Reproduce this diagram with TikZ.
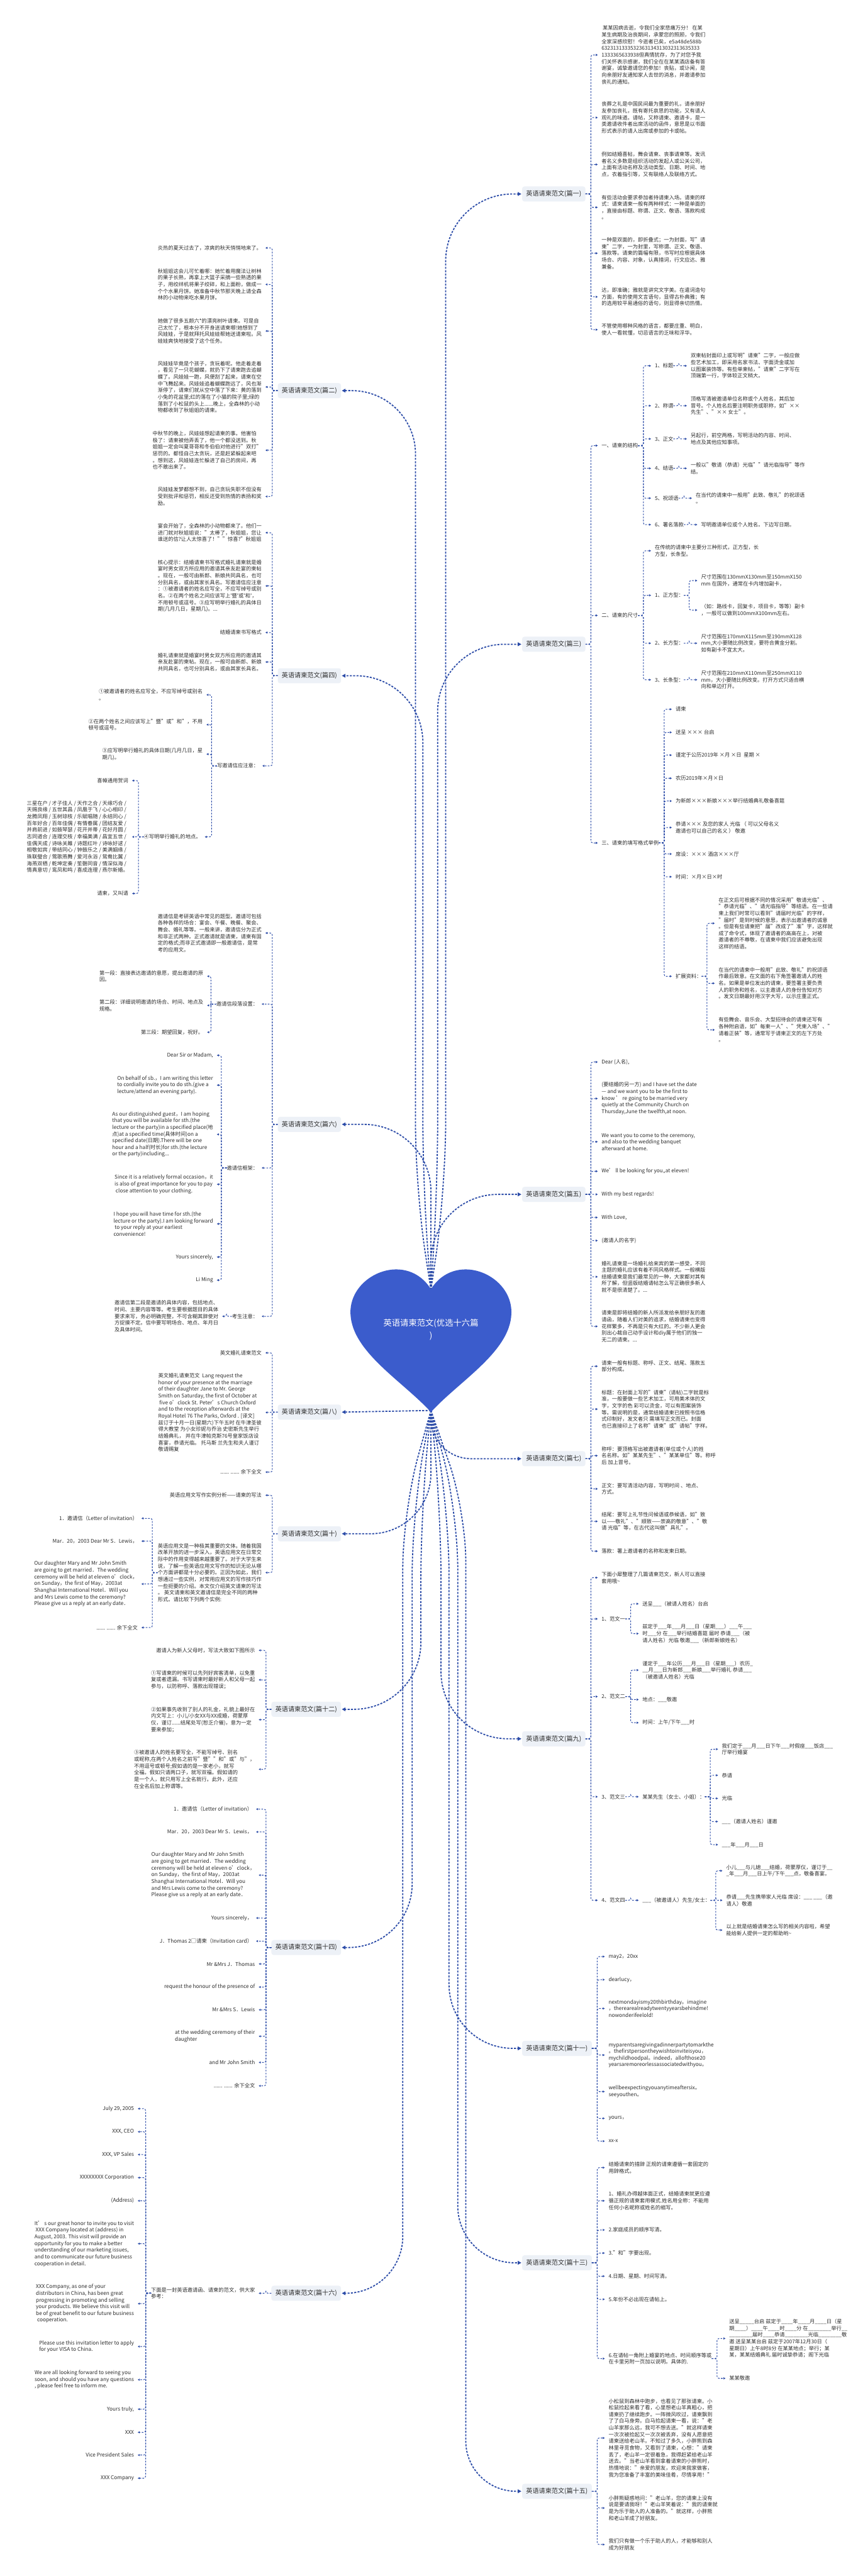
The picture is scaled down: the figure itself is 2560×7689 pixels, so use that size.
\documentclass[tikz,border=0pt]{standalone}
\usepackage{fontspec}
\setmainfont{Noto Sans CJK SC}
\usetikzlibrary{arrows.meta}
\XeTeXlinebreaklocale "zh"

\definecolor{linkblue}{RGB}{44,76,168}
\definecolor{heartblue}{RGB}{59,92,204}
\definecolor{boxfill}{RGB}{237,241,247}
\definecolor{ink}{RGB}{45,45,45}

\newcommand{\blk}{\_\_\_}
\newcommand{\blkk}{\_\_\_\_}
\newcommand{\rlink}[2]{\draw[sublink] (#1.east) -- ++(16,0) |- (#2.west);}
\newcommand{\llink}[2]{\draw[sublink] (#1.west) -- ++(-16,0) |- (#2.east);}

\begin{document}
\begin{tikzpicture}[x=1pt, y=1pt,
  branch/.style={
    fill=boxfill, rounded corners=7pt, text=ink,
    font=\fontsize{19}{24}\selectfont,
    minimum height=45pt, inner xsep=12pt
  },
  txt/.style={
    align=left, inner sep=0pt, text=ink,
    font=\fontsize{15.5}{20}\selectfont
  },
  mainlink/.style={
    draw=linkblue, line width=3.4pt, dash pattern=on 6pt off 4pt,
    -{Triangle[length=11pt, width=11pt]}, shorten >=2pt
  },
  sublink/.style={
    draw=linkblue, line width=1.9pt, dash pattern=on 5pt off 4pt,
    rounded corners=6pt, -{Triangle[length=6pt, width=6pt]}, shorten >=11pt
  }
]
\fill[white] (0,0) rectangle (2560,-7689);
\useasboundingbox (0,0) rectangle (2560,-7689);

% ----- Branch labels -----
\node[branch, anchor=west] (p1) at (1558,-579) {英语请柬范文(篇一)};
\node[branch, anchor=west] (p3) at (1558,-1923) {英语请柬范文(篇三)};
\node[branch, anchor=west] (p5) at (1558,-3565) {英语请柬范文(篇五)};
\node[branch, anchor=west] (p7) at (1558,-4354) {英语请柬范文(篇七)};
\node[branch, anchor=west] (p9) at (1558,-5190) {英语请柬范文(篇九)};
\node[branch, anchor=west] (p11) at (1558,-6114) {英语请柬范文(篇十一)};
\node[branch, anchor=west] (p13) at (1558,-6754) {英语请柬范文(篇十三)};
\node[branch, anchor=west] (p15) at (1558,-7436) {英语请柬范文(篇十五)};
\node[branch, anchor=east] (p2) at (1018,-1166) {英语请柬范文(篇二)};
\node[branch, anchor=east] (p4) at (1018,-2017) {英语请柬范文(篇四)};
\node[branch, anchor=east] (p6) at (1018,-3356) {英语请柬范文(篇六)};
\node[branch, anchor=east] (p8) at (1018,-4215) {英语请柬范文(篇八)};
\node[branch, anchor=east] (p10) at (1018,-4578) {英语请柬范文(篇十)};
\node[branch, anchor=east] (p12) at (1018,-5102) {英语请柬范文(篇十二)};
\node[branch, anchor=east] (p14) at (1018,-5813) {英语请柬范文(篇十四)};
\node[branch, anchor=east] (p16) at (1018,-6845) {英语请柬范文(篇十六)};

% ----- 篇一 -----
\node[txt, anchor=west] (p1a) at (1795,-164) {\ 某某因病去逝，令我们全家悲痛万分！ 在某\\某生病期及治丧期间，承蒙您的照顾，令我们\\全家深感欣慰！今逝者已矣，e5a48de588b\\6323131333532363134313032313635333\\1333365633938但真情犹存，为了对您予我\\们关怀表示感谢，我们全在在某某酒店备有答\\谢宴，诚挚邀请您的参加！丧贴，或讣闻，是\\向亲朋好友通知家人去世的消息，并邀请参加\\丧礼的通知。};
\node[txt, anchor=west] (p1b) at (1795,-351) {丧葬之礼是中国民间最为重要的礼，请亲朋好\\友参加丧礼，既有寄托哀思的功能，又有请人\\观礼的味道。请帖，又称请柬、邀请卡，是一\\类邀请收件者出席活动的函件，意思是以书面\\形式表示的请人出席或参加的卡或帖。};
\node[txt, anchor=west] (p1c) at (1795,-491) {例如结婚喜帖，舞会请柬、丧事请柬等。发讯\\者名义多数是组织活动的发起人或公关公司，\\上面有活动名称及活动类型、日期、时间、地\\点，衣着指引等，又有联络人及联络方式。};
\node[txt, anchor=west] (p1d) at (1795,-619) {有些活动会要求参加者持请柬入场。请柬的样\\式：请柬请柬一般有两种样式：一种是单面的\\，直接由标题、称谓、正文、敬语、落款构成\\。};
\node[txt, anchor=west] (p1e) at (1795,-756) {一种是双面的，即折叠式；一为封面，写"请\\柬"二字，一为封里，写称谓、正文、敬语、\\落款等。请柬的篇幅有限，书写时应根据具体\\场合、内容、对象，认真措词，行文应达、雅\\兼备。};
\node[txt, anchor=west] (p1f) at (1795,-886) {达，即准确；雅就是讲究文字美。在遣词造句\\方面，有的使用文言语句，显得古朴典雅；有\\的选用较平易通俗的语句，则显得亲切热情。};
\node[txt, anchor=west] (p1g) at (1795,-984) {不管使用哪种风格的语言，都要庄重、明白，\\使人一看就懂，切忌语言的乏味和浮华。};
\foreach \c in {a,b,c,d,e,f,g} {\rlink{p1}{p1\c}}

% ----- 篇二 -----
\node[txt, anchor=east] (p2a) at (781,-740) {炎热的夏天过去了，凉爽的秋天悄悄地来了。};
\node[txt, anchor=east] (p2b) at (781,-849) {秋姐姐这会儿可忙着哪：她忙着用魔法让树林\\的果子长熟，再拿上大篮子采摘一些熟透的果\\子，用绞绊机将果子绞碎，和上面粉，做成一\\个个水果月饼。她准备中秋节那天晚上请全森\\林的小动物来吃水果月饼。};
\node[txt, anchor=east] (p2c) at (781,-988) {她做了很多五颜六*的漂亮树叶请柬。可是自\\己太忙了，根本分不开身送请柬哪!她想到了\\风娃娃，于是就拜托风娃娃帮她送请柬啦。风\\娃娃爽快地接受了这个任务。};
\node[txt, anchor=east] (p2d) at (781,-1155) {风娃娃毕竟是个孩子，贪玩着呢。他走着走着\\，看见了一只花蝴蝶，就扔下了请柬跑去追蝴\\蝶了。风娃娃一跑，风便刮了起来，请柬在空\\中飞舞起来。风娃娃追着蝴蝶跑远了，风也渐\\渐停了，请柬们就从空中落了下来：黄的落到\\小兔的花盆里;红的落在了小猫的院子里;绿的\\落到了小松鼠的头上......晚上，全森林的小动\\物都收到了秋姐姐的请柬。};
\node[txt, anchor=east] (p2e) at (781,-1344) {中秋节的晚上，风娃娃想起请柬的事。他害怕\\极了：请柬被他弄丢了，他一个都没送到。秋\\姐姐一定会叫夏哥哥和冬伯伯对他进行"双打"\\惩罚的。都怪自己太贪玩，还是赶紧躲起来吧\\。想到这，风娃娃连忙躲进了自己的房间，再\\也不敢出来了。};
\node[txt, anchor=east] (p2f) at (781,-1482) {风娃娃发梦都想不到，自己贪玩失职不但没有\\受到批评和惩罚，相反还受到热情的表扬和奖\\励。};
\foreach \c in {a,b,c,d,e,f} {\llink{p2}{p2\c}}

% ----- 篇三 -----
\node[txt, anchor=west] (p3a) at (1795,-1330) {一、请柬的结构};
\node[txt, anchor=west] (p3b) at (1795,-1837) {二、请柬的尺寸};
\node[txt, anchor=west] (p3c) at (1795,-2516) {三、请柬的填写格式举例};
\foreach \c in {a,b,c} {\rlink{p3}{p3\c}}

\node[txt, anchor=west] (p3aa) at (1954,-1092) {1、标题};
\node[txt, anchor=west] (p3ab) at (1954,-1211) {2、称谓};
\node[txt, anchor=west] (p3ac) at (1954,-1310) {3、正文};
\node[txt, anchor=west] (p3ad) at (1954,-1398) {4、结语};
\node[txt, anchor=west] (p3ae) at (1954,-1487) {5、祝颂语};
\node[txt, anchor=west] (p3af) at (1954,-1566) {6、署名落款};
\foreach \c in {a,b,c,d,e,f} {\rlink{p3a}{p3a\c}}
\node[txt, anchor=west] (p3aax) at (2061,-1092) {双柬帖封面印上或写明"请柬"二字，一般应做\\些艺术加工，即采用名家书法、字面烫金或加\\以图案装饰等。有些单柬帖，"请柬"二字写在\\顶端第一行，字体较正文稍大。};
\node[txt, anchor=west] (p3abx) at (2061,-1211) {顶格写清被邀请单位名称或个人姓名，其后加\\冒号。个人姓名后要注明职务或职称，如"××\\先生"、"×× 女士"。};
\node[txt, anchor=west] (p3acx) at (2061,-1310) {另起行，前空两格，写明活动的内容、时间、\\地点及其他应知事项。};
\node[txt, anchor=west] (p3adx) at (2061,-1398) {一般以"敬请（恭请）光临""请光临指导"等作\\结。};
\node[txt, anchor=west] (p3aex) at (2076,-1487) {在当代的请柬中一般用"此致、敬礼"的祝颂语\\。};
\node[txt, anchor=west] (p3afx) at (2092,-1566) {写明邀请单位或个人姓名。下边写日期。};
\foreach \c in {a,b,c,d,e,f} {\rlink{p3a\c}{p3a\c x}}

\node[txt, anchor=west] (p3ba) at (1954,-1644) {在传统的请柬中主要分三种形式，正方型，长\\方型，长条型。};
\node[txt, anchor=west] (p3bb) at (1954,-1777) {1、正方型：};
\node[txt, anchor=west] (p3bc) at (1954,-1920) {2、长方型：};
\node[txt, anchor=west] (p3bd) at (1954,-2029) {3、长条型：};
\foreach \c in {a,b,c,d} {\rlink{p3b}{p3b\c}}
\node[txt, anchor=west] (p3bba) at (2092,-1733) {尺寸范围在130mmX130mm至150mmX150\\mm 在国外，通常在卡内增加副卡，};
\node[txt, anchor=west] (p3bbb) at (2092,-1821) {（如：路线卡，回复卡，项目卡，等等）副卡\\，一般可以做到100mmX100mm左右。};
\rlink{p3bb}{p3bba} \rlink{p3bb}{p3bbb}
\node[txt, anchor=west] (p3bcx) at (2092,-1920) {尺寸范围在170mmX115mm至190mmX128\\mm,大小要随比例改变，要符合黄金分割。\\如有副卡不宜太大。};
\node[txt, anchor=west] (p3bdx) at (2092,-2029) {尺寸范围在210mmX110mm至250mmX110\\mm，大小要随比例改变。打开方式只适合横\\向和单边打开。};
\rlink{p3bc}{p3bcx} \rlink{p3bd}{p3bdx}

\node[txt, anchor=west] (p3ca) at (2016,-2117) {请柬};
\node[txt, anchor=west] (p3cb) at (2016,-2186) {送呈 ××× 台启};
\node[txt, anchor=west] (p3cc) at (2016,-2254) {谨定于公历2019年 ×月 ×日\ \ 星期 ×};
\node[txt, anchor=west] (p3cd) at (2016,-2323) {农历2019年×月×日};
\node[txt, anchor=west] (p3ce) at (2016,-2391) {为新郎×××新娘×××举行结婚典礼敬备喜筵};
\node[txt, anchor=west] (p3cf) at (2016,-2470) {恭请××× 及您的家人 光临 （ 可以父母名义\\邀请也可以自己的名义 ） 敬邀};
\node[txt, anchor=west] (p3cg) at (2016,-2549) {席设：××× 酒店×××厅};
\node[txt, anchor=west] (p3ch) at (2016,-2617) {时间：×月×日×时};
\node[txt, anchor=west] (p3ci) at (2016,-2914) {扩展资料：};
\foreach \c in {a,b,c,d,e,f,g,h,i} {\rlink{p3c}{p3c\c}}
\node[txt, anchor=west] (p3cia) at (2144,-2756) {在正文后可根据不同的情况采用"敬请光临"、\\"恭请光临"、"请光临指导"等结语。在一些请\\柬上我们时常可以看到"请届时光临"的字样，\\"届时"是到时候的意思，表示出邀请者的诚意\\。但是有些请柬把"届"改成了"准"字，这样就\\成了命令式，体现了邀请者的高高在上，对被\\邀请者的不尊敬，在请柬中我们应该避免出现\\这样的结语。};
\node[txt, anchor=west] (p3cib) at (2144,-2935) {在当代的请柬中一般用"此致、敬礼"的祝颂语\\作最后致意。在文面的右下角签署邀请人的姓\\名。如果是单位发出的请柬，要签署主要负责\\人的职务和姓名，以主邀请人的身份告知对方\\。发文日期最好用汉字大写，以示庄重正式。};
\node[txt, anchor=west] (p3cic) at (2144,-3074) {有些舞会、音乐会、大型招待会的请柬还写有\\各种附启语，如"每柬一人"、"凭柬入场"、"\\请着正装"等，通常写于请柬正文的左下方处\\。};
\foreach \c in {a,b,c} {\rlink{p3ci}{p3ci\c}}

% ----- 篇四 -----
\node[txt, anchor=east] (p4a) at (781,-1590) {宴会开始了，全森林的小动物都来了。他们一\\进门就对秋姐姐说："太棒了，秋姐姐，您让\\谁送的信?让人太惊喜了！""惊喜?"秋姐姐};
\node[txt, anchor=east] (p4b) at (781,-1749) {核心提示：结婚请柬书写格式婚礼请柬就是婚\\宴时男女双方所应用的邀请其亲友赴宴的柬帖\\。现在，一般可由新郎、新娘共同具名，也可\\分别具名，或由其家长具名。写邀请信应注意\\：①被邀请者的姓名应写全，不应写绰号或别\\名。②在两个姓名之间应该写上\textquotesingle 暨\textquotesingle 或\textquotesingle 和\textquotesingle ，\\不用顿号或逗号。③应写明举行婚礼的具体日\\期(几月几日，星期几)。...};
\node[txt, anchor=east] (p4c) at (781,-1888) {结婚请柬书写格式};
\node[txt, anchor=east] (p4d) at (781,-1976) {婚礼请柬就是婚宴时男女双方所应用的邀请其\\亲友赴宴的柬帖。现在，一般可由新郎、新娘\\共同具名，也可分别具名，或由其家长具名。};
\node[txt, anchor=east] (p4e) at (772,-2286) {写邀请信应注意：};
\foreach \c in {a,b,c,d,e} {\llink{p4}{p4\c}}
\node[txt, anchor=east] (p4ea) at (605,-2074) {①被邀请者的姓名应写全，不应写绰号或别名\\。};
\node[txt, anchor=east] (p4eb) at (605,-2163) {②在两个姓名之间应该写上"暨"或"和"，不用\\顿号或逗号。};
\node[txt, anchor=east] (p4ec) at (605,-2251) {③应写明举行婚礼的具体日期(几月几日，星\\期几)。};
\node[txt, anchor=east] (p4ed) at (600,-2498) {④写明举行婚礼的地点。};
\foreach \c in {a,b,c,d} {\llink{p4e}{p4e\c}}
\node[txt, anchor=east] (p4eda) at (383,-2330) {喜幛通用贺词};
\node[txt, anchor=east] (p4edb) at (383,-2498) {三星在户 / 才子佳人 / 天作之合 / 天缘巧合 /\\天赐良缘 / 五世其昌 / 凤凰于飞 / 心心相印 /\\龙腾凤翔 / 玉树琼枝 / 乐赋唱随 / 永结同心 /\\百年好合 / 百年佳偶 / 有情眷属 / 团结友爱 /\\并肩前进 / 如鼓琴瑟 / 花开并蒂 / 花好月圆 /\\志同道合 / 连理交枝 / 幸福美满 / 昌宜五世 /\\佳偶天成 / 诗咏关雎 / 诗题红叶 / 诗咏好逑 /\\相敬如宾 / 带结同心 / 钟鼓乐之 / 美满姻缘 /\\珠联璧合 / 莺歌燕舞 / 爱河永浴 / 鸳鸯比翼 /\\海燕双栖 / 乾坤定奏 / 笙磬同音 / 情深似海 /\\情真意切 / 鸾凤和鸣 / 喜成连理 / 燕尔新婚。};
\node[txt, anchor=east] (p4edc) at (383,-2667) {请柬，又叫请};
\foreach \c in {a,b,c} {\llink{p4ed}{p4ed\c}}

% ----- 篇五 -----
\node[txt, anchor=west] (p5a) at (1795,-3170) {Dear (人名),};
\node[txt, anchor=west] (p5b) at (1795,-3279) {(要结婚的另一方) and I have set the date\\— and we want you to be the first to\\know ’ re going to be married very\\quietly at the Community Church on\\Thursday,June the twelfth,at noon.};
\node[txt, anchor=west] (p5c) at (1795,-3408) {We want you to come to the ceremony,\\and also to the wedding banquet\\afterward at home.};
\node[txt, anchor=west] (p5d) at (1795,-3496) {We’ ll be looking for you,,at eleven!};
\node[txt, anchor=west] (p5e) at (1795,-3565) {With my best regards!};
\node[txt, anchor=west] (p5f) at (1795,-3634) {With Love,};
\node[txt, anchor=west] (p5g) at (1795,-3703) {(邀请人的名字)};
\node[txt, anchor=west] (p5h) at (1795,-3811) {婚礼请柬是一场婚礼给来宾的第一感受，不同\\主题的婚礼应该有着不同风格样式。一般横版\\结婚请柬是我们最常见的一种，大家都对其有\\所了解，但竖版结婚请帖怎么写正确很多新人\\就不是很清楚了。...};
\node[txt, anchor=west] (p5i) at (1795,-3959) {请柬是即将结婚的新人所派发给亲朋好友的邀\\请函，随着人们对美的追求，结婚请柬也变得\\花样繁多，不再是只有大红的。不少新人更会\\别出心裁自己动手设计和diy属于他们的独一\\无二的请柬。...};
\foreach \c in {a,b,c,d,e,f,g,h,i} {\rlink{p5}{p5\c}}

% ----- 篇六 -----
\node[txt, anchor=east] (p6a) at (781,-2785) {邀请信是考研英语中常见的题型。邀请可包括\\各种各样的场合：宴会、午餐、晚餐、聚会、\\舞会、婚礼等等。一般来讲，邀请信分为正式\\和非正式两种。正式邀请就是请柬，请柬有固\\定的格式;而非正式邀请即一般邀请信，是常\\考的应用文。};
\node[txt, anchor=east] (p6b) at (770,-2997) {邀请信段落设置：};
\node[txt, anchor=east] (p6c) at (770,-3486) {邀请信框架：};
\node[txt, anchor=east] (p6d) at (770,-3929) {考生注意：};
\foreach \c in {a,b,c,d} {\llink{p6}{p6\c}}
\node[txt, anchor=east] (p6ba) at (607,-2914) {第一段：直接表达邀请的意愿，提出邀请的原\\因。};
\node[txt, anchor=east] (p6bb) at (607,-3001) {第二段：详细说明邀请的场合、时间、地点及\\规格。};
\node[txt, anchor=east] (p6bc) at (607,-3081) {第三段：期望回复，祝好。};
\foreach \c in {a,b,c} {\llink{p6b}{p6b\c}}
\node[txt, anchor=east] (p6ca) at (636,-3150) {Dear Sir or Madam,};
\node[txt, anchor=east] (p6cb) at (636,-3239) {On behalf of sb.，I am writing this letter\\to cordially invite you to do sth.(give a\\lecture/attend an evening party).};
\node[txt, anchor=east] (p6cc) at (636,-3386) {As our distinguished guest，I am hoping\\that you will be available for sth.(the\\lecture or the party)in a specified place(地\\点)at a specified time(具体时间)on a\\specified date(日期).There will be one\\hour and a half(时长)for sth.(the lecture\\or the party)including...};
\node[txt, anchor=east] (p6cd) at (636,-3535) {Since it is a relatively formal occasion，it\\is also of great importance for you to pay\\\ close attention to your clothing.};
\node[txt, anchor=east] (p6ce) at (636,-3653) {I hope you will have time for sth.(the\\lecture or the party).I am looking forward\\\ to your reply at your earliest\\convenience!};
\node[txt, anchor=east] (p6cf) at (636,-3752) {Yours sincerely,};
\node[txt, anchor=east] (p6cg) at (636,-3821) {Li Ming};
\foreach \c in {a,b,c,d,e,f,g} {\llink{p6c}{p6c\c}}
\node[txt, anchor=east] (p6da) at (652,-3929) {邀请信第二段是邀请的具体内容，包括地点、\\时间、主要内容等等。考生要根据题目的具体\\要求来写，务必明确完整，不可含糊其辞使对\\方捉摸不定。信中要写明场合、地点、年月日\\及具体时间。};
\llink{p6d}{p6da}

% ----- 篇七 -----
\node[txt, anchor=west] (p7a) at (1795,-4078) {请柬一般有标题、称呼、正文、结尾、落款五\\部分构成。};
\node[txt, anchor=west] (p7b) at (1795,-4206) {标题：在封面上写的"请柬"(请帖)二字就是标\\准，一般要做一些艺术加工，可用美术体的文\\字，文字的色 彩可以烫金，可以有图案装饰\\等。需说明的是，通常结婚请柬已按照书信格\\式印制好，发文者只 需填写正文而已。封面\\也已直接印上了名称"请柬"或"请帖"字样。};
\node[txt, anchor=west] (p7c) at (1795,-4345) {称呼：要顶格写出被邀请者(单位或个人)的姓\\名名称。如"某某先生"、"某某单位"等。称呼\\后 加上冒号。};
\node[txt, anchor=west] (p7d) at (1795,-4444) {正文：要写清活动内容，写明时间 、地点、\\方式。};
\node[txt, anchor=west] (p7e) at (1795,-4541) {结尾：要写上礼节性问候语或恭候语，如"致\\以——敬礼"、"顺致——崇高的敬意"、"敬\\请 光临"等，在古代这叫做"具礼"。};
\node[txt, anchor=west] (p7f) at (1795,-4630) {落款：署上邀请者的名称和发柬日期。};
\foreach \c in {a,b,c,d,e,f} {\rlink{p7}{p7\c}}

% ----- 篇八 -----
\node[txt, anchor=east] (p8a) at (781,-4038) {英文婚礼请柬范文};
\node[txt, anchor=east] (p8b) at (781,-4216) {英文婚礼请柬范文\ \ Lang request the\\honor of your presence at the marriage\\of their daughter Jane to Mr. George\\Smith on Saturday, the first of October at\\\ five o'clock St. Peter's Church Oxford\\and to the reception afterwards at the\\Royal Hotel 76 The Parks, Oxford . [译文]\\兹订于十月一日(星期六)下午五时 在牛津圣彼\\得大教堂 为小女珍妮与乔治 史密斯先生举行\\结婚典礼， 并在牛津帕克斯76号皇家饭店设\\喜宴，恭请光临。 托马斯 兰先生和夫人谨订\\敬请赐复};
\node[txt, anchor=east] (p8c) at (781,-4394) {...... ...... 余下全文};
\foreach \c in {a,b,c} {\llink{p8}{p8\c}}

% ----- 篇九 -----
\node[txt, anchor=west] (p9a) at (1795,-4709) {下面小犀整理了几篇请柬范文，新人可以直接\\套用哦\textasciitilde};
\node[txt, anchor=west] (p9b) at (1795,-4832) {1、范文一};
\node[txt, anchor=west] (p9c) at (1795,-5064) {2、范文二};
\node[txt, anchor=west] (p9d) at (1795,-5363) {3、范文三};
\node[txt, anchor=west] (p9e) at (1795,-5672) {4、范文四};
\foreach \c in {a,b,c,d,e} {\rlink{p9}{p9\c}}
\node[txt, anchor=west] (p9ba) at (1917,-4787) {送呈\blk{}（被请人姓名）台启};
\node[txt, anchor=west] (p9bb) at (1917,-4876) {兹定于\blk{}年\blk{}月\blk{}日（星期\blk{}）\blk{}午\blk{}\\时\blk{}分 在\blk{}举行结婚喜筵 届时 恭请\blk{}（被\\请人姓名）光临 敬邀\blk{}（新郎新娘姓名）};
\rlink{p9b}{p9ba} \rlink{p9b}{p9bb}
\node[txt, anchor=west] (p9ca) at (1917,-4985) {谨定于\blk{}年公历\blk{}月\blk{}日（星期\blk{}）农历\_\\\_\_月\blk{}日为新郎\blk{}新娘\blk{}举行婚礼 恭请\blk{}\\（被邀请人姓名）光临};
\node[txt, anchor=west] (p9cb) at (1917,-5073) {地点：\blk{}敬邀};
\node[txt, anchor=west] (p9cc) at (1917,-5142) {时间：上午/下午\blk{}时};
\foreach \c in {a,b,c} {\rlink{p9c}{p9c\c}}
\node[txt, anchor=west] (p9da) at (1917,-5363) {某某先生（女士、小姐）：};
\rlink{p9d}{p9da}
\node[txt, anchor=west] (p9daa) at (2154,-5221) {我们定于\blk{}月\blk{}日下午\blk{}时假座\blk{}饭店\blk{}\\厅举行婚宴};
\node[txt, anchor=west] (p9dab) at (2154,-5299) {恭请};
\node[txt, anchor=west] (p9dac) at (2154,-5368) {光临};
\node[txt, anchor=west] (p9dad) at (2154,-5437) {\blk{}（邀请人姓名）谨邀};
\node[txt, anchor=west] (p9dae) at (2154,-5506) {\blk{}年\blk{}月\blk{}日};
\foreach \c in {a,b,c,d,e} {\rlink{p9da}{p9da\c}}
\node[txt, anchor=west] (p9ea) at (1917,-5672) {\blk{}（被邀请人）先生/女士：};
\rlink{p9e}{p9ea}
\node[txt, anchor=west] (p9eaa) at (2167,-5584) {小儿\blk{}与儿媳\blk{}结婚，荷蒙厚仪，谨订于\_\_\\\_年\blk{}月\blk{}日上午/下午\blk{}点，敬备喜宴。};
\node[txt, anchor=west] (p9eab) at (2167,-5672) {恭请\blk{}先生携带家人光临 席设：\blk{} \blk{}（邀\\请人）敬邀};
\node[txt, anchor=west] (p9eac) at (2167,-5761) {以上就是结婚请柬怎么写的相关内容啦，希望\\能给新人提供一定的帮助哟\textasciitilde};
\foreach \c in {a,b,c} {\rlink{p9ea}{p9ea\c}}

% ----- 篇十 -----
\node[txt, anchor=east] (p10a) at (781,-4463) {英语应用文写作实例分析——请柬的写法};
\node[txt, anchor=east] (p10b) at (781,-4694) {英语应用文是一种极其重要的文体。随着我国\\改革开放的进一步深入，英语应用文在日常交\\际中的作用变得越来越重要了。对于大学生来\\说，了解一些英语应用文写作的知识无论从哪\\个方面讲都是十分必要的。正因为如此，我们\\想通过一些实例，对常用应用文的写作技巧作\\一些扼要的介绍。本文仅介绍英文请柬的写法\\。 英文请柬和英文邀请信是完全不同的两种\\形式。请比较下列两个实例:};
\foreach \c in {a,b} {\llink{p10}{p10\c}}
\node[txt, anchor=east] (p10ba) at (411,-4532) {1．邀请信（Letter of invitation）};
\node[txt, anchor=east] (p10bb) at (411,-4600) {Mar．20，2003 Dear Mr S．Lewis，};
\node[txt, anchor=east] (p10bc) at (411,-4728) {Our daughter Mary and Mr John Smith\\are going to get married．The wedding\\ceremony will be held at eleven o'clock，\\on Sunday，the first of May，2003at\\Shanghai International Hotel．Will you\\and Mrs Lewis come to the ceremony?\\Please give us a reply at an early date．};
\node[txt, anchor=east] (p10bd) at (411,-4858) {...... ...... 余下全文};
\foreach \c in {a,b,c,d} {\llink{p10b}{p10b\c}}

% ----- 篇十一 -----
\node[txt, anchor=west] (p11a) at (1816,-5840) {may2，20xx};
\node[txt, anchor=west] (p11b) at (1816,-5909) {dearlucy，};
\node[txt, anchor=west] (p11c) at (1816,-5995) {nextmondayismy20thbirthday。imagine\\，therearealreadytwentyyearsbehindme!\\nowonderifeelold!};
\node[txt, anchor=west] (p11d) at (1816,-6134) {myparentsaregivingadinnerpartytomarkthe\\。thefirstpersontheywishtoinviteisyou，\\mychildhoodpal。indeed，allofthose20\\yearsaremoreorlessassociatedwithyou。};
\node[txt, anchor=west] (p11e) at (1816,-6243) {wellbeexpectingyouanytimeaftersix。\\seeyouthen。};
\node[txt, anchor=west] (p11f) at (1816,-6323) {yours，};
\node[txt, anchor=west] (p11g) at (1816,-6391) {xx-x};
\foreach \c in {a,b,c,d,e,f,g} {\rlink{p11}{p11\c}}

% ----- 篇十二 -----
\node[txt, anchor=east] (p12a) at (761,-4926) {邀请人为新人父母时，写法大致如下图所示};
\node[txt, anchor=east] (p12b) at (761,-5014) {①写请柬的时候可以先列好宾客清单，以免重\\复或者遗漏。书写请柬时最好新人和父母一起\\参与，以防称呼、落款出现错误；};
\node[txt, anchor=east] (p12c) at (761,-5133) {②如果事先收到了别人的礼金，礼貌上最好在\\内文写上：小儿/小女XX与XX成婚，荷蒙厚\\仪，谨订......结尾处写(恕乏介催)，意为一定\\要来参加；};
\node[txt, anchor=east] (p12d) at (761,-5281) {③被邀请人的姓名要写全，不能写绰号、别名\\或昵称,在两个人姓名之前写"暨""和"或"与"，\\不用逗号或顿号;假如请的是一家老小，就写\\全福。假如只请两口子，就写双福。假如请的\\是一个人，就只用写上全名就行。此外，还应\\在全名后加上称谓等。};
\foreach \c in {a,b,c,d} {\llink{p12}{p12\c}}

% ----- 篇十三 -----
\node[txt, anchor=west] (p13a) at (1816,-6470) {结婚请柬的措辞 正规的请柬遵循一套固定的\\用辞格式。};
\node[txt, anchor=west] (p13b) at (1816,-6569) {1、婚礼办得越体面正式，结婚请柬就更应遵\\循正规的请柬套用模式.姓名用全称：不能用\\任何小名昵称或姓名的缩写。};
\node[txt, anchor=west] (p13c) at (1816,-6656) {2.家庭成员的顺序写清。};
\node[txt, anchor=west] (p13d) at (1816,-6725) {3."和"字要出现。};
\node[txt, anchor=west] (p13e) at (1816,-6794) {4.日期、星期、时间写清。};
\node[txt, anchor=west] (p13f) at (1816,-6863) {5.年份不必出现在请帖上。};
\node[txt, anchor=west] (p13g) at (1816,-7040) {6.在请帖一角附上婚宴的地点、时间顺序等或\\在卡里另附一页加以说明。具体的.};
\foreach \c in {a,b,c,d,e,f,g} {\rlink{p13}{p13\c}}
\node[txt, anchor=west] (p13ga) at (2176,-6980) {送呈\_\_\blk{}台启 兹定于\blkk{}年\blkk{}月\blkk{}日（星\\期\blkk{}）\blkk{}午\blkk{}时\blkk{}分 在\blkk\blkk{}举行\_\_\\\blkk\blkk{}届时\blkk{}恭请\blkk\blkk{}光临\blkk\blkk{}敬\\邀 送呈某某台启 兹定于2007年12月30日（\\星期日）上午8时8分 在某某地点；举行；某\\某，某某结婚典礼 届时诚挚恭请；阁下光临};
\node[txt, anchor=west] (p13gb) at (2176,-7099) {某某敬邀};
\rlink{p13g}{p13ga} \rlink{p13g}{p13gb}

% ----- 篇十四 -----
\node[txt, anchor=east] (p14a) at (753,-5400) {1．邀请信（Letter of invitation）};
\node[txt, anchor=east] (p14b) at (753,-5468) {Mar．20，2003 Dear Mr S．Lewis，};
\node[txt, anchor=east] (p14c) at (761,-5597) {Our daughter Mary and Mr John Smith\\are going to get married．The wedding\\ceremony will be held at eleven o'clock，\\on Sunday，the first of May，2003at\\Shanghai International Hotel．Will you\\and Mrs Lewis come to the ceremony?\\Please give us a reply at an early date．};
\node[txt, anchor=east] (p14d) at (753,-5725) {Yours sincerely，};
\node[txt, anchor=east] (p14e) at (753,-5794) {J．Thomas 2□请柬（Invitation card）};
\node[txt, anchor=east] (p14f) at (761,-5862) {Mr \&Mrs J．Thomas};
\node[txt, anchor=east] (p14g) at (761,-5931) {request the honour of the presence of};
\node[txt, anchor=east] (p14h) at (761,-5999) {Mr \&Mrs S．Lewis};
\node[txt, anchor=east] (p14i) at (761,-6078) {at the wedding ceremony of their\\daughter};
\node[txt, anchor=east] (p14j) at (761,-6156) {and Mr John Smith};
\node[txt, anchor=east] (p14k) at (761,-6226) {...... ...... 余下全文};
\foreach \c in {a,b,c,d,e,f,g,h,i,j,k} {\llink{p14}{p14\c}}

% ----- 篇十五 -----
\node[txt, anchor=west] (p15a) at (1816,-7277) {小松鼠到森林中跑步，也看见了那张请柬。小\\松鼠捡起来看了看，心里想老山羊真粗心，把\\请柬扔了继续跑步。一阵微风吹过，请柬飘到\\了了白马身旁。白马捡起请柬一看，说："老\\山羊家那么远，我可不想去送。"就这样请柬\\一次次被捡起又一次次被丢弃，没有人愿意把\\请柬送给老山羊。不知过了多久，小胖熊到森\\林里寻觅食物，又看到了请柬，心想："请柬\\丢了，老山羊一定很着急，我得赶紧给老山羊\\送去。"当老山羊看到拿着请柬的小胖熊时，\\热情地说："亲爱的朋友，欢迎来我家做客，\\我为您准备了丰富的美味佳肴，尽情享用！"};
\node[txt, anchor=west] (p15b) at (1816,-7486) {小胖熊疑惑地问："老山羊，您的请柬上没有\\说是要请我呀！"老山羊笑着说："我的请柬就\\是为乐于助人的人准备的。"就这样，小胖熊\\和老山羊成了好朋友。};
\node[txt, anchor=west] (p15c) at (1816,-7595) {我们只有做一个乐于助人的人，才能够和别人\\成为好朋友};
\foreach \c in {a,b,c} {\rlink{p15}{p15\c}}

% ----- 篇十六 -----
\node[txt, anchor=east] (p16a) at (761,-6845) {下面是一封英语邀请函、请柬的范文，供大家\\参考：};
\llink{p16}{p16a}
\node[txt, anchor=east] (p16aa) at (400,-6294) {July 29, 2005};
\node[txt, anchor=east] (p16ab) at (400,-6363) {XXX, CEO};
\node[txt, anchor=east] (p16ac) at (400,-6431) {XXX, VP Sales};
\node[txt, anchor=east] (p16ad) at (400,-6500) {XXXXXXXX Corporation};
\node[txt, anchor=east] (p16ae) at (400,-6569) {(Address)};
\node[txt, anchor=east] (p16af) at (400,-6697) {It’ s our great honor to invite you to visit\\\ XXX Company located at (address) in\\August, 2003. This visit will provide an\\opportunity for you to make a better\\understanding of our marketing issues,\\and to communicate our future business\\cooperation in detail.};
\node[txt, anchor=east] (p16ag) at (400,-6876) {XXX Company, as one of your\\distributors in China, has been great\\progressing in promoting and selling\\your products. We believe this visit will\\be of great benefit to our future business\\\ cooperation.};
\node[txt, anchor=east] (p16ah) at (400,-7004) {Please use this invitation letter to apply\\for your VISA to China.};
\node[txt, anchor=east] (p16ai) at (400,-7103) {We are all looking forward to seeing you\\soon, and should you have any questions\\, please feel free to inform me.};
\node[txt, anchor=east] (p16aj) at (400,-7191) {Yours truly,};
\node[txt, anchor=east] (p16ak) at (400,-7260) {XXX};
\node[txt, anchor=east] (p16al) at (400,-7328) {Vice President Sales};
\node[txt, anchor=east] (p16am) at (400,-7397) {XXX Company};
\foreach \c in {a,b,c,d,e,f,g,h,i,j,k,l,m} {\llink{p16a}{p16a\c}}

% ----- Hub connectors -----
\coordinate (cusp) at (1286,-3850);
\coordinate (tip) at (1286,-4210);
\draw[mainlink, rounded corners=200pt] (cusp) -- ++(44,300) |- (p1.west);
\draw[mainlink, rounded corners=200pt] (cusp) -- ++(20,300) |- (p3.west);
\draw[mainlink, rounded corners=190pt] (cusp) -- ++(-46,300) |- (p2.east);
\draw[mainlink, rounded corners=200pt] (cusp) -- ++(-24,300) |- (p4.east);
\draw[mainlink, rounded corners=200pt] (cusp) |- (p5.west);
\draw[mainlink, rounded corners=200pt] (cusp) |- (p6.east);
\draw[mainlink, rounded corners=120pt] (tip) |- (p7.west);
\draw[mainlink] (tip) -- (p8.east);
\draw[mainlink, rounded corners=180pt] (tip) |- (p10.east);
\draw[mainlink, rounded corners=200pt] (tip) -- ++(30,-300) |- (p9.west);
\draw[mainlink, rounded corners=190pt] (tip) -- ++(54,-300) |- (p11.west);
\draw[mainlink, rounded corners=170pt] (tip) -- ++(80,-300) |- (p13.west);
\draw[mainlink, rounded corners=150pt] (tip) -- ++(104,-300) |- (p15.west);
\draw[mainlink, rounded corners=200pt] (tip) -- ++(-30,-300) |- (p12.east);
\draw[mainlink, rounded corners=190pt] (tip) -- ++(-56,-300) |- (p14.east);
\draw[mainlink, rounded corners=170pt] (tip) -- ++(-84,-300) |- (p16.east);

% ----- Heart -----
\fill[heartblue] (1286,-4215) .. controls (1200,-4120) and (1040,-4030) .. (1046,-3910)
  .. controls (1052,-3800) and (1215,-3735) .. (1286,-3848)
  .. controls (1357,-3735) and (1520,-3800) .. (1526,-3910)
  .. controls (1532,-4030) and (1372,-4120) .. (1286,-4215) -- cycle;
\node[text=white, align=center, font=\fontsize{25}{37}\selectfont] (hub) at (1286,-3968)
  {英语请柬范文(优选十六篇\\)};

\end{tikzpicture}
\end{document}
